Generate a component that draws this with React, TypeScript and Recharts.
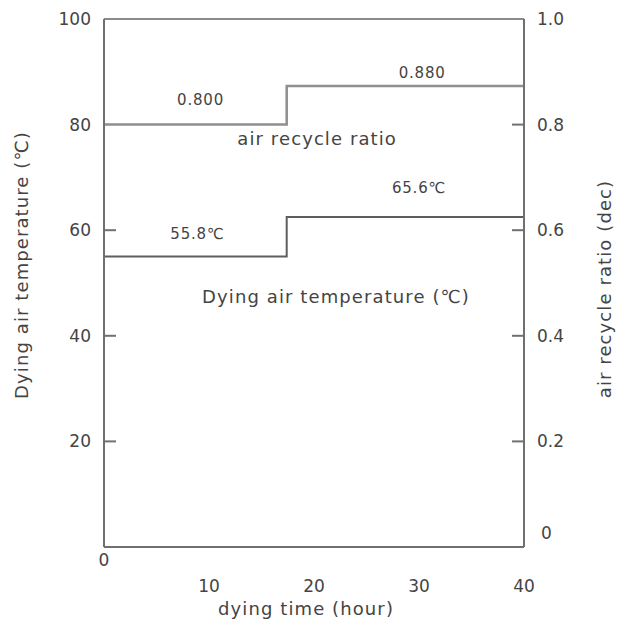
import React from 'react';
import { ComposedChart, Line, XAxis, YAxis, ReferenceLine, ReferenceDot } from 'recharts';

// step times (hour) and the two drying schedules
const stepTimes = [0, 17.4, 40];
const airTemperature = [55, 62.5, 62.5];
const recycleRatio = [0.8, 0.873, 0.873];

const timeTicks = [0, 10, 20, 30, 40];
const tempTicks = [0, 20, 40, 60, 80, 100];
const ratioTicks = [0, 0.2, 0.4, 0.6, 0.8, 1.0];

// text notes placed in data coordinates (x: hour, y: temperature axis)
const notes = [
    { x: 9.2, y: 84.7, text: '0.800', big: false },
    { x: 30.3, y: 89.8, text: '0.880', big: false },
    { x: 20.3, y: 77.3, text: 'air recycle ratio', big: true },
    { x: 8.9, y: 59.3, text: '55.8\u2103', big: false },
    { x: 30.0, y: 68.0, text: '65.6\u2103', big: false },
    { x: 22.1, y: 47.4, text: 'Dying air temperature (\u2103)', big: true },
];

const data = stepTimes.map((t, i) => ({ time: t, temp: airTemperature[i], ratio: recycleRatio[i] }));

const W = 618;
const H = 630;
const PLOT_LEFT = 104;
const PLOT_RIGHT = 524;
const PLOT_TOP = 19;
const PLOT_BOTTOM = 547;

const FONT = '"DejaVu Sans", sans-serif';
const TEXT = '#444';
const AXIS = '#707070';

const titleStyle = { fontSize: 18, fill: TEXT, fontFamily: FONT, letterSpacing: 1.1 };

const LeftTick = ({ y, payload }: any) => {
    const v = payload.value;
    return (
        <g>
            {v > 0 && v < 80 && <line x1={PLOT_LEFT} x2={PLOT_LEFT + 12} y1={y} y2={y} stroke={AXIS} strokeWidth={2} />}
            {v > 0 && (
                <text x={91} y={y} textAnchor="end" dominantBaseline="central" fontSize={17} fill={TEXT} fontFamily={FONT}>
                    {v}
                </text>
            )}
        </g>
    );
};

const RightTick = ({ y, payload }: any) => {
    const v = payload.value;
    const label = v === 0 ? '0' : v.toFixed(1);
    return (
        <g>
            {v > 0 && v < 1 && <line x1={PLOT_RIGHT - 12} x2={PLOT_RIGHT} y1={y} y2={y} stroke={AXIS} strokeWidth={2} />}
            <text x={v === 0 ? 541 : 537} y={v === 0 ? y - 14 : y} textAnchor="start" dominantBaseline="central" fontSize={17} fill={TEXT} fontFamily={FONT}>
                {label}
            </text>
        </g>
    );
};

const BottomTick = ({ x, payload }: any) => {
    const v = payload.value;
    return (
        <text x={x} y={v === 0 ? 560 : 586} textAnchor="middle" dominantBaseline="central" fontSize={17} fill={TEXT} fontFamily={FONT}>
            {v}
        </text>
    );
};

export default function App() {
    return (
        <div style={{ position: 'absolute', left: 0, top: 0, width: W, height: H, background: '#fff' }}>
            <ComposedChart width={W} height={H} data={data} margin={{ top: PLOT_TOP, right: 0, bottom: 0, left: 0 }}>
                <XAxis
                    dataKey="time"
                    type="number"
                    domain={[0, 40]}
                    ticks={timeTicks}
                    height={H - PLOT_BOTTOM}
                    axisLine={{ stroke: AXIS, strokeWidth: 2 }}
                    tickLine={false}
                    tick={<BottomTick />}
                    interval={0}
                    label={{ value: 'dying time (hour)', position: 'center', dx: -8, dy: 20, ...titleStyle }}
                />
                <YAxis
                    yAxisId="left"
                    domain={[0, 100]}
                    ticks={tempTicks}
                    width={PLOT_LEFT}
                    axisLine={{ stroke: AXIS, strokeWidth: 2 }}
                    tickLine={false}
                    tick={<LeftTick />}
                    interval={0}
                    label={{ value: 'Dying air temperature (\u2103)', angle: -90, position: 'center', dx: -30, dy: -18, ...titleStyle }}
                />
                <YAxis
                    yAxisId="right"
                    orientation="right"
                    domain={[0, 1]}
                    ticks={ratioTicks}
                    width={W - PLOT_RIGHT}
                    axisLine={{ stroke: AXIS, strokeWidth: 2 }}
                    tickLine={false}
                    tick={<RightTick />}
                    interval={0}
                    label={{ value: 'air recycle ratio (dec)', angle: -90, position: 'center', dx: 34, dy: 6, ...titleStyle }}
                />
                <ReferenceLine yAxisId="left" y={100} stroke="#8a8a8a" strokeWidth={2} />
                <Line
                    yAxisId="left"
                    dataKey="temp"
                    type="stepAfter"
                    stroke="#5e5e5e"
                    strokeWidth={2}
                    dot={false}
                    isAnimationActive={false}
                />
                <Line
                    yAxisId="right"
                    dataKey="ratio"
                    type="stepAfter"
                    stroke="#8f8f8f"
                    strokeWidth={2.5}
                    dot={false}
                    isAnimationActive={false}
                />
                {notes.map((n) => (
                    <ReferenceDot
                        key={n.text}
                        yAxisId="left"
                        x={n.x}
                        y={n.y}
                        r={0}
                        fill="none"
                        stroke="none"
                        label={{
                            value: n.text,
                            position: 'center',
                            fontSize: n.big ? 18 : 15,
                            letterSpacing: n.big ? 1.1 : 0.8,
                            fill: TEXT,
                            fontFamily: FONT,
                        }}
                    />
                ))}
            </ComposedChart>
        </div>
    );
}
